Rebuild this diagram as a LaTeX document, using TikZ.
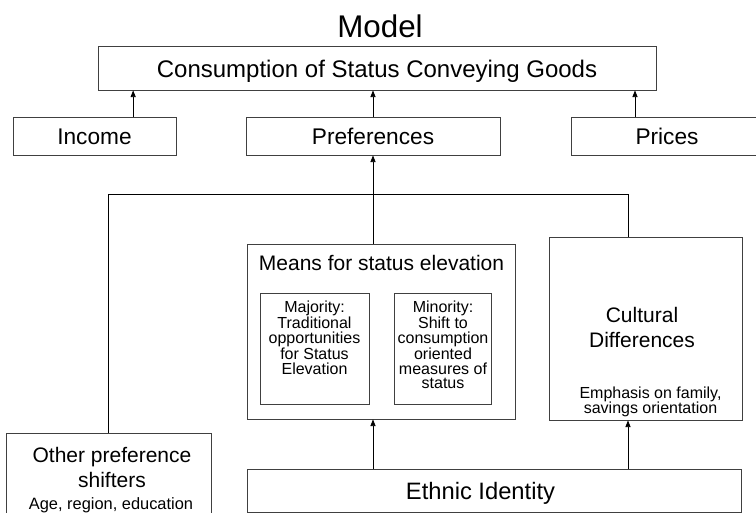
\documentclass[tikz,border=0pt]{standalone}
\usepackage{fontspec}
\setmainfont{Liberation Sans}
\usetikzlibrary{arrows.meta,fit}

\begin{document}
\begin{tikzpicture}[x=0.75pt,y=0.75pt,yscale=-1,xscale=1,
  box/.style={draw=black!75, line width=0.6pt, inner sep=0pt},
  arr/.style={draw=black, line width=0.6pt, -{Triangle[length=5pt,width=3.8pt]}},
  link/.style={draw=black, line width=0.6pt}]
\useasboundingbox (0,0) rectangle (756,513);

%Boxes
\node (cons) [box, fit={(98,46) (656,90)}] {};
\node (income) [box, fit={(13,117) (176,155)}] {};
\node (pref) [box, fit={(246,117) (500,155)}] {};
\node (prices) [box, fit={(571,117) (763,155)}] {};
\node (means) [box, fit={(247,244) (515,419)}] {};
\node (major) [box, fit={(260,293) (369,404)}] {};
\node (minor) [box, fit={(394,293) (491,404)}] {};
\node (cult) [box, fit={(549,237) (742,420)}] {};
\node (other) [box, fit={(6,433) (211,545)}] {};
\node (ethnic) [box, fit={(247,469) (741,512)}] {};

% Text Node
\node (title) [anchor=base, font=\fontsize{23.5}{27}\selectfont] at (380,38) {Model};
\node (tcons) [anchor=base, font=\fontsize{18}{21}\selectfont] at (377,78) {Consumption of Status Conveying Goods};
\node (tincome) [anchor=base, font=\fontsize{17}{20}\selectfont] at (94.5,145) {Income};
\node (tpref) [anchor=base, font=\fontsize{17}{20}\selectfont] at (373,145) {Preferences};
\node (tprices) [anchor=base, font=\fontsize{17}{20}\selectfont] at (667,145) {Prices};
\node (tmeans) [anchor=base, font=\fontsize{15.75}{19}\selectfont] at (381.5,270) {Means for status elevation};
\node (tmajor) [anchor=north, align=center, inner sep=0pt, font=\fontsize{12}{11}\selectfont] at (314.5,300.5) {Majority:\\Traditional\\opportunities\\for Status\\Elevation};
\node (tminor) [anchor=north, align=center, inner sep=0pt, font=\fontsize{12}{11}\selectfont] at (443,300.5) {Minority:\\Shift to\\consumption\\oriented\\measures of\\status};
\node (tcult) [anchor=north, align=center, inner sep=0pt, font=\fontsize{15.75}{18.75}\selectfont] at (642,306.8) {Cultural\\Differences};
\node (temph) [anchor=north, align=center, inner sep=0pt, font=\fontsize{12}{11.25}\selectfont] at (650.5,386.3) {Emphasis on family,\\savings orientation};
\node (tother) [anchor=north, align=center, inner sep=0pt, font=\fontsize{15.75}{19}\selectfont] at (112,447) {Other preference\\shifters};
\node (tage) [anchor=base, font=\fontsize{12.3}{14}\selectfont] at (111,509.5) {Age, region, education};
\node (tethnic) [anchor=base, font=\fontsize{17.8}{21}\selectfont] at (480.5,499) {Ethnic Identity};

%Connectors
\coordinate (bend) at (628,194);
\draw [arr] ([xshift=29pt]income.north) -- ([xshift=29pt]income.north |- cons.south);
\draw [arr] (pref.north) -- (pref.north |- cons.south);
\draw [arr] ([xshift=-24pt]prices.north) -- ([xshift=-24pt]prices.north |- cons.south);
\draw [arr] (pref.south |- means.north) -- (pref.south);
\draw [link] (other.north) |- (bend) -- (bend |- cult.north);
\draw [arr] (ethnic.north -| pref.south) -- (means.south -| pref.south);
\draw [arr] (ethnic.north -| bend) -- (cult.south -| bend);

\end{tikzpicture}
\end{document}
